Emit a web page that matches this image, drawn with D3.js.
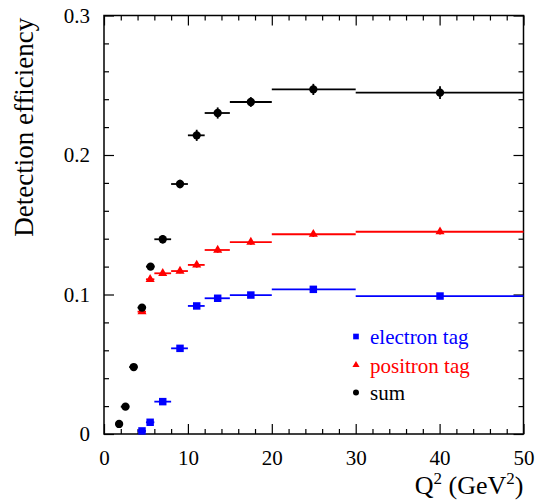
<!DOCTYPE html>
<html>
<head>
<meta charset="utf-8">
<script src="https://cdn.jsdelivr.net/npm/d3@7"></script>
<style>
  body { margin: 0; background: #fff; }
</style>
</head>
<body>
<div id="chart"></div>
<script>
// Q2 bins and efficiencies
var binLo = [1.5, 2, 3, 4, 5, 6, 8, 10, 12, 15, 20, 30]
var binHi = [2, 3, 4, 5, 6, 8, 10, 12, 15, 20, 30, 50]
var q2Sum = [1.8, 2.56, 3.54, 4.53, 5.55, 7.0, 9.06, 11.05, 13.55, 17.5, 24.95, 40.05]
var effSum = [0.0072, 0.0196, 0.048, 0.0906, 0.120, 0.1396, 0.1792, 0.2141, 0.2301, 0.238, 0.247, 0.2447]
var errSum = [0.001, 0.0015, 0.002, 0.0025, 0.0025, 0.003, 0.003, 0.004, 0.004, 0.0035, 0.004, 0.0045]

var tagLo = [4, 5, 6, 8, 10, 12, 15, 20, 30]
var tagHi = [5, 6, 8, 10, 12, 15, 20, 30, 50]
var q2Tag = [4.53, 5.5, 7.0, 9.06, 11.05, 13.55, 17.5, 24.95, 40.05]
var effElectron = [0.0022, 0.0084, 0.0232, 0.0614, 0.0918, 0.0973, 0.0996, 0.1037, 0.0989]
var effPositron = [0.0877, 0.1109, 0.1152, 0.1168, 0.1212, 0.1319, 0.1376, 0.1432, 0.145]
var errTag = [0.001, 0.001, 0.0015, 0.0015, 0.002, 0.002, 0.002, 0.002, 0.002]

var xMajor = [0, 10, 20, 30, 40, 50]
var yMajor = [0, 0.1, 0.2, 0.3]

var legendNames = ['electron tag', 'positron tag', 'sum']
var legendColors = ['#0000ff', '#ff0000', '#000000']

var width = 541, height = 500
var pad = { left: 104, right: 523.5, top: 15.5, bottom: 434 }
var serif = '"Liberation Serif", "DejaVu Serif", serif'

var svg = d3.select('#chart').append('svg').attr('width', width).attr('height', height)

var x = d3.scaleLinear().domain([0, 50]).range([pad.left, pad.right])
var y = d3.scaleLinear().domain([0, 0.3]).range([pad.bottom, pad.top])

var xMinor = d3.range(0, 51, 2).filter(function(d) { return d % 10 !== 0 })
var yMinor = d3.range(0, 0.3001, 0.02).filter(function(d) { return Math.abs(Math.round(d * 10) - d * 10) > 1e-6 })

function styleAxis(g) {
    g.select('.domain').remove()
    g.attr('font-family', null)
    g.selectAll('line').attr('stroke', '#000').attr('stroke-width', 1.2)
    g.selectAll('text').style('font-family', serif).style('font-size', '21px').attr('fill', '#000')
}

// bottom
svg.append('g').attr('transform', 'translate(0,' + pad.bottom + ')')
    .call(d3.axisBottom(x).tickValues(xMajor).tickSize(-10).tickPadding(16).tickFormat(d3.format('d')))
    .call(styleAxis)
svg.append('g').attr('transform', 'translate(0,' + pad.bottom + ')')
    .call(d3.axisBottom(x).tickValues(xMinor).tickSize(-5).tickFormat(''))
    .call(styleAxis)
// top
svg.append('g').attr('transform', 'translate(0,' + pad.top + ')')
    .call(d3.axisTop(x).tickValues(xMajor).tickSize(-10).tickFormat(''))
    .call(styleAxis)
svg.append('g').attr('transform', 'translate(0,' + pad.top + ')')
    .call(d3.axisTop(x).tickValues(xMinor).tickSize(-5).tickFormat(''))
    .call(styleAxis)
// left
svg.append('g').attr('transform', 'translate(' + pad.left + ',0)')
    .call(d3.axisLeft(y).tickValues(yMajor).tickSize(-10).tickPadding(14).tickFormat(function(d) { return d === 0 ? '0' : d3.format('.1f')(d) }))
    .call(styleAxis)
svg.append('g').attr('transform', 'translate(' + pad.left + ',0)')
    .call(d3.axisLeft(y).tickValues(yMinor).tickSize(-5).tickFormat(''))
    .call(styleAxis)
// right
svg.append('g').attr('transform', 'translate(' + pad.right + ',0)')
    .call(d3.axisRight(y).tickValues(yMajor).tickSize(-10).tickFormat(''))
    .call(styleAxis)
svg.append('g').attr('transform', 'translate(' + pad.right + ',0)')
    .call(d3.axisRight(y).tickValues(yMinor).tickSize(-5).tickFormat(''))
    .call(styleAxis)

svg.append('rect')
    .attr('x', pad.left).attr('y', pad.top)
    .attr('width', pad.right - pad.left).attr('height', pad.bottom - pad.top)
    .attr('fill', 'none').attr('stroke', '#000').attr('stroke-width', 1.5)

// axis titles
svg.append('text')
    .attr('transform', 'translate(33,' + ((pad.top + 237) / 2 + 1) + ') rotate(-90)')
    .attr('text-anchor', 'middle')
    .style('font-family', serif)
    .style('font-size', '27px')
    .text('Detection efficiency')

var xt = svg.append('text')
    .attr('x', pad.right).attr('y', 494)
    .attr('text-anchor', 'end')
    .style('font-family', serif)
    .style('font-size', '26px')
xt.append('tspan').text('Q')
xt.append('tspan').attr('dy', -10).style('font-size', '17px').text('2')
xt.append('tspan').attr('dy', 10).text(' (GeV')
xt.append('tspan').attr('dy', -10).style('font-size', '17px').text('2')
xt.append('tspan').attr('dy', 10).text(')')

function drawSeries(xs, ys, lo, hi, err, color, symbolType, size) {
    var g = svg.append('g')
    xs.forEach(function(d, i) {
        g.append('line')
            .attr('x1', x(lo[i])).attr('x2', x(hi[i]))
            .attr('y1', y(ys[i])).attr('y2', y(ys[i]))
            .attr('stroke', color).attr('stroke-width', 1.8)
        g.append('line')
            .attr('x1', x(d)).attr('x2', x(d))
            .attr('y1', y(ys[i] - err[i])).attr('y2', y(ys[i] + err[i]))
            .attr('stroke', color).attr('stroke-width', 1.8)
    })
    g.selectAll('path.mark').data(xs).enter().append('path')
        .attr('class', 'mark')
        .attr('transform', function(d, i) { return 'translate(' + x(d) + ',' + y(ys[i]) + ')' })
        .attr('d', d3.symbol().type(symbolType).size(size))
        .attr('fill', color)
}

drawSeries(q2Tag, effElectron, tagLo, tagHi, errTag, '#0000ff', d3.symbolSquare, 56)
drawSeries(q2Tag, effPositron, tagLo, tagHi, errTag, '#ff0000', d3.symbolTriangle, 36)
drawSeries(q2Sum, effSum, binLo, binHi, errSum, '#000000', d3.symbolCircle, 54)

// legend
var legendSymbols = [d3.symbolSquare, d3.symbolTriangle, d3.symbolCircle]
var legendSizes = [32, 22, 28]
var legendY = [344, 372.5, 400]
legendNames.forEach(function(name, i) {
    svg.append('path')
        .attr('transform', 'translate(356,' + (legendY[i] - 7.5) + ')')
        .attr('d', d3.symbol().type(legendSymbols[i]).size(legendSizes[i]))
        .attr('fill', legendColors[i])
    svg.append('text')
        .attr('x', 370).attr('y', legendY[i])
        .style('font-family', serif)
        .style('font-size', '21px')
        .attr('fill', legendColors[i])
        .text(name)
})
</script>
</body>
</html>
